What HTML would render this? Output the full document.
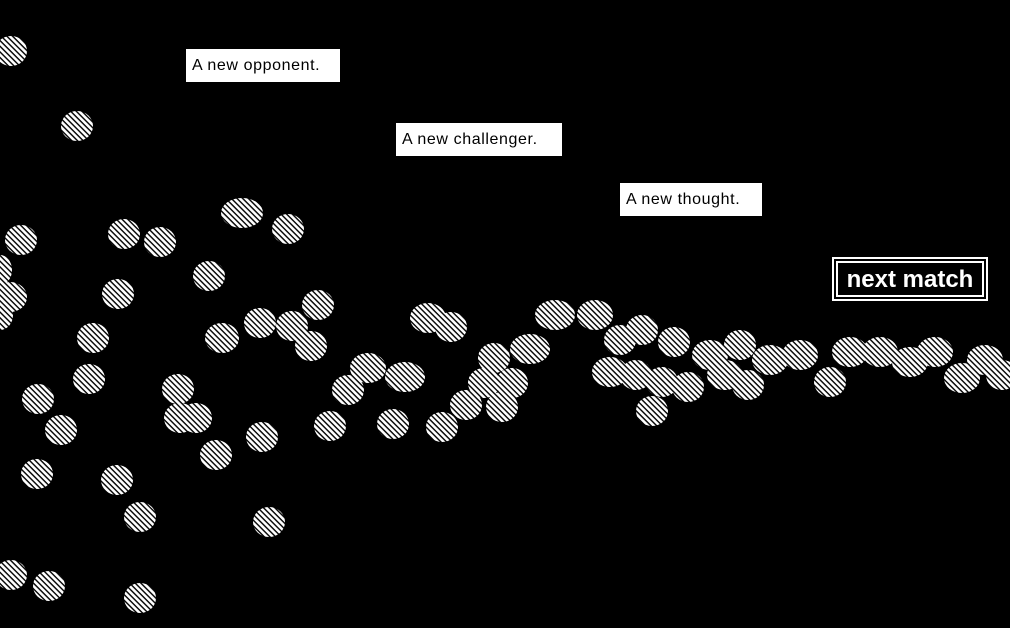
<!DOCTYPE html>
<html><head><meta charset="utf-8"><style>
html,body{margin:0;padding:0;background:#000;width:1010px;height:628px;overflow:hidden;position:relative}
svg{position:absolute;left:0;top:0}
.lbl{position:absolute;background:#fff;color:#000;font-family:"Liberation Sans",sans-serif;font-size:16px;line-height:33px;padding-left:6px;box-sizing:border-box;height:33px;letter-spacing:0.6px}
.nm{position:absolute;left:832px;top:257px;width:156px;height:44px;box-sizing:border-box;border:2px solid #fff;}
.nm div{position:absolute;left:2px;top:2px;right:2px;bottom:2px;border:2px solid #fff;color:#fff;font-family:"Liberation Sans",sans-serif;font-weight:bold;font-size:24px;line-height:34px;text-align:center}
</style></head><body>
<svg width="1010" height="628">
<defs>
<pattern id="p" width="4" height="4" patternUnits="userSpaceOnUse" patternTransform="rotate(-45)">
<rect width="4" height="4" fill="#000"/><rect width="2.6" height="4" fill="#fff"/>
</pattern>
</defs>
<g fill="url(#p)">
<ellipse cx="11" cy="51" rx="16" ry="15"/>
<ellipse cx="77" cy="126" rx="16" ry="15"/>
<ellipse cx="21" cy="240" rx="16" ry="15"/>
<ellipse cx="124" cy="234" rx="16" ry="15"/>
<ellipse cx="160" cy="242" rx="16" ry="15"/>
<ellipse cx="242" cy="213" rx="21" ry="15"/>
<ellipse cx="288" cy="229" rx="16" ry="15"/>
<ellipse cx="209" cy="276" rx="16" ry="15"/>
<ellipse cx="0" cy="270" rx="12" ry="15"/>
<ellipse cx="10" cy="297" rx="17" ry="15"/>
<ellipse cx="0" cy="315" rx="13" ry="15"/>
<ellipse cx="118" cy="294" rx="16" ry="15"/>
<ellipse cx="318" cy="305" rx="16" ry="15"/>
<ellipse cx="93" cy="338" rx="16" ry="15"/>
<ellipse cx="222" cy="338" rx="17" ry="15"/>
<ellipse cx="260" cy="323" rx="16" ry="15"/>
<ellipse cx="292" cy="326" rx="16" ry="15"/>
<ellipse cx="311" cy="346" rx="16" ry="15"/>
<ellipse cx="89" cy="379" rx="16" ry="15"/>
<ellipse cx="38" cy="399" rx="16" ry="15"/>
<ellipse cx="61" cy="430" rx="16" ry="15"/>
<ellipse cx="178" cy="389" rx="16" ry="15"/>
<ellipse cx="180" cy="418" rx="16" ry="15"/>
<ellipse cx="196" cy="418" rx="16" ry="15"/>
<ellipse cx="216" cy="455" rx="16" ry="15"/>
<ellipse cx="262" cy="437" rx="16" ry="15"/>
<ellipse cx="37" cy="474" rx="16" ry="15"/>
<ellipse cx="117" cy="480" rx="16" ry="15"/>
<ellipse cx="140" cy="517" rx="16" ry="15"/>
<ellipse cx="269" cy="522" rx="16" ry="15"/>
<ellipse cx="11" cy="575" rx="16" ry="15"/>
<ellipse cx="49" cy="586" rx="16" ry="15"/>
<ellipse cx="140" cy="598" rx="16" ry="15"/>
<ellipse cx="330" cy="426" rx="16" ry="15"/>
<ellipse cx="393" cy="424" rx="16" ry="15"/>
<ellipse cx="442" cy="427" rx="16" ry="15"/>
<ellipse cx="348" cy="390" rx="16" ry="15"/>
<ellipse cx="368" cy="368" rx="18" ry="15"/>
<ellipse cx="405" cy="377" rx="20" ry="15"/>
<ellipse cx="428" cy="318" rx="18" ry="15"/>
<ellipse cx="451" cy="327" rx="16" ry="15"/>
<ellipse cx="494" cy="358" rx="16" ry="15"/>
<ellipse cx="530" cy="349" rx="20" ry="15"/>
<ellipse cx="484" cy="383" rx="16" ry="15"/>
<ellipse cx="512" cy="383" rx="16" ry="15"/>
<ellipse cx="466" cy="405" rx="16" ry="15"/>
<ellipse cx="502" cy="407" rx="16" ry="15"/>
<ellipse cx="555" cy="315" rx="20" ry="15"/>
<ellipse cx="595" cy="315" rx="18" ry="15"/>
<ellipse cx="620" cy="340" rx="16" ry="15"/>
<ellipse cx="642" cy="330" rx="16" ry="15"/>
<ellipse cx="610" cy="372" rx="18" ry="15"/>
<ellipse cx="636" cy="375" rx="16" ry="15"/>
<ellipse cx="662" cy="382" rx="16" ry="15"/>
<ellipse cx="652" cy="411" rx="16" ry="15"/>
<ellipse cx="688" cy="387" rx="16" ry="15"/>
<ellipse cx="674" cy="342" rx="16" ry="15"/>
<ellipse cx="710" cy="355" rx="18" ry="15"/>
<ellipse cx="740" cy="345" rx="16" ry="15"/>
<ellipse cx="725" cy="375" rx="18" ry="15"/>
<ellipse cx="748" cy="385" rx="16" ry="15"/>
<ellipse cx="770" cy="360" rx="18" ry="15"/>
<ellipse cx="800" cy="355" rx="18" ry="15"/>
<ellipse cx="830" cy="382" rx="16" ry="15"/>
<ellipse cx="850" cy="352" rx="18" ry="15"/>
<ellipse cx="880" cy="352" rx="18" ry="15"/>
<ellipse cx="910" cy="362" rx="18" ry="15"/>
<ellipse cx="935" cy="352" rx="18" ry="15"/>
<ellipse cx="962" cy="378" rx="18" ry="15"/>
<ellipse cx="985" cy="360" rx="18" ry="15"/>
<ellipse cx="1002" cy="375" rx="16" ry="15"/>
</g>
</svg>
<div class="lbl" style="left:186px;top:49px;width:154px">A new opponent.</div>
<div class="lbl" style="left:396px;top:123px;width:166px">A new challenger.</div>
<div class="lbl" style="left:620px;top:183px;width:142px">A new thought.</div>
<div class="nm"><div>next match</div></div>
</body></html>
